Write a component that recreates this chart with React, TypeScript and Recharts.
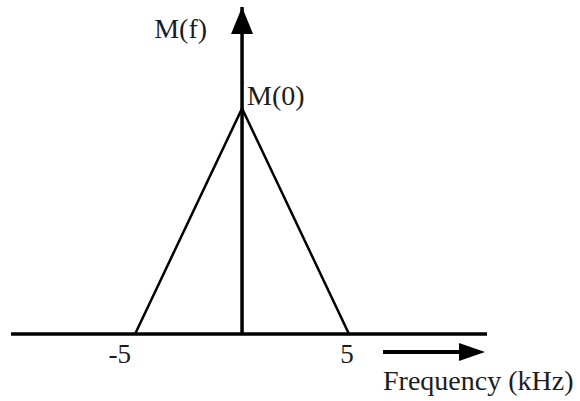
import { LineChart, Line, XAxis, YAxis, ReferenceLine, ReferenceDot } from 'recharts';

// triangular spectrum M(f), frequency in kHz
const freqKHz = [-5, 0, 5];
const magnitude = [0, 1, 0];
const freqTicks = [-5, 5];
const peakLabel = 'M(0)';
const yAxisLabel = 'M(f)';
const xAxisLabel = 'Frequency (kHz)';

const xDomain: [number, number] = [-10.8, 11.45];
const yDomain: [number, number] = [0, 1.45];

const data = freqKHz.map((f, i) => ({ f, m: magnitude[i] }));

const FONT = '"Liberation Serif", "Times New Roman", serif';
const INK = '#1c1c1c';

function FreqTick({ x, y, payload }: any) {
  const neg = payload.value < 0;
  return (
    <text
      x={neg ? x - 4 : x - 2}
      y={y + 21}
      textAnchor={neg ? 'end' : 'middle'}
      fontFamily={FONT}
      fontSize={27}
      fill={INK}
    >
      {payload.value}
    </text>
  );
}

function FreqLabel({ viewBox }: any) {
  const right = viewBox.x + viewBox.width;
  const ay = viewBox.y + 18;
  return (
    <g>
      <line x1={right - 104} y1={ay} x2={right - 26} y2={ay} stroke="#000" strokeWidth={4} />
      <polygon points={`${right - 2},${ay} ${right - 28},${ay - 9} ${right - 28},${ay + 9}`} fill="#000" />
      <text x={right - 104} y={viewBox.y + 56} fontFamily={FONT} fontSize={28} fill={INK}>
        {xAxisLabel}
      </text>
    </g>
  );
}

function UpArrow({ cx, cy }: any) {
  return (
    <g>
      <polygon points={`${cx},${cy} ${cx - 11},${cy + 27} ${cx + 11},${cy + 27}`} fill="#000" />
      <text x={cx - 35} y={cy + 31} textAnchor="end" fontFamily={FONT} fontSize={28} fill={INK}>
        {yAxisLabel}
      </text>
    </g>
  );
}

function PeakLabel({ viewBox }: any) {
  return (
    <text x={viewBox.x + 5} y={viewBox.y - 3} fontFamily={FONT} fontSize={28} fill={INK}>
      {peakLabel}
    </text>
  );
}

export default function App() {
  return (
    <div style={{ position: 'absolute', left: 0, top: 0, width: 580, height: 401, background: '#fff' }}>
      <LineChart width={580} height={401} data={data} margin={{ top: 7, right: 93, bottom: 0, left: 11 }}>
        <XAxis
          dataKey="f"
          type="number"
          domain={xDomain}
          ticks={freqTicks}
          allowDataOverflow
          height={67}
          tickLine={false}
          axisLine={{ stroke: '#000', strokeWidth: 3.5 }}
          tick={<FreqTick />}
          label={<FreqLabel />}
        />
        <YAxis hide type="number" domain={yDomain} allowDataOverflow />
        <ReferenceLine x={0} stroke="#000" strokeWidth={3.5} />
        <ReferenceDot x={0} y={yDomain[1]} r={0} ifOverflow="visible" shape={<UpArrow />} />
        <Line
          dataKey="m"
          type="linear"
          stroke="#000"
          strokeWidth={2.5}
          dot={false}
          activeDot={false}
          isAnimationActive={false}
        />
        <ReferenceDot x={0} y={magnitude[1]} r={0} ifOverflow="visible" fill="none" stroke="none" label={<PeakLabel />} />
      </LineChart>
    </div>
  );
}
